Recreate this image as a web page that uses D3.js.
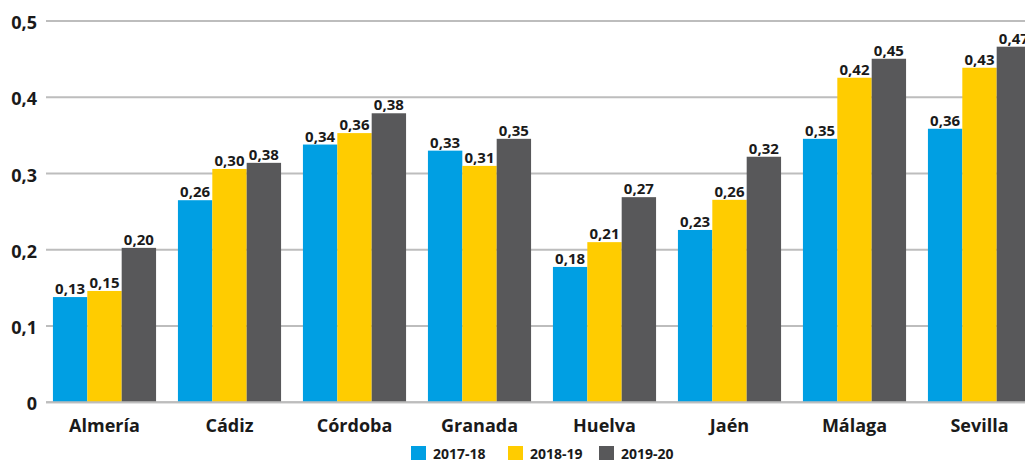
<!DOCTYPE html>
<html>
<head>
<meta charset="utf-8">
<script src="https://cdn.jsdelivr.net/npm/d3@7"></script>
<style>
  html, body { margin: 0; padding: 0; background: #fff; overflow: hidden; }
  svg { display: block; font-family: "Open Sans", sans-serif; }
</style>
</head>
<body>
<svg id="chart" width="1025" height="460"></svg>
<script>
// ---- data ----
const categories = ["Almería", "Cádiz", "Córdoba", "Granada", "Huelva", "Jaén", "Málaga", "Sevilla"];
const seriesNames = ["2017-18", "2018-19", "2019-20"];
// bar heights as drawn
const values2017 = [0.138, 0.265, 0.338, 0.330, 0.1775, 0.226, 0.3455, 0.3587];
const values2018 = [0.146, 0.306, 0.353, 0.310, 0.210, 0.2655, 0.4256, 0.4387];
const values2019 = [0.2025, 0.314, 0.379, 0.3455, 0.269, 0.322, 0.4505, 0.4663];
// printed data labels
const labels2017 = ["0,13", "0,26", "0,34", "0,33", "0,18", "0,23", "0,35", "0,36"];
const labels2018 = ["0,15", "0,30", "0,36", "0,31", "0,21", "0,26", "0,42", "0,43"];
const labels2019 = ["0,20", "0,38", "0,38", "0,35", "0,27", "0,32", "0,45", "0,47"];
const yTicks = [0, 0.1, 0.2, 0.3, 0.4, 0.5];
const colors = ["#009FE3", "#FFCC00", "#58585A"];

const seriesValues = [values2017, values2018, values2019];
const seriesLabels = [labels2017, labels2018, labels2019];

const svg = d3.select("#chart");

const x = d3.scaleBand().domain(categories).range([42, 1042]).paddingInner(0.175).paddingOuter(0.0875);
const xs = d3.scaleBand().domain(seriesNames).range([0, x.bandwidth()]);
const y = d3.scaleLinear().domain([0, 0.5]).range([402.3, 21]);
const fmt = v => d3.format(".1f")(v).replace(".", ",").replace(/^0,0$/, "0");

// gridlines
svg.append("g").selectAll("line").data(yTicks).join("line")
  .attr("x1", 46).attr("x2", 1025)
  .attr("y1", d => y(d)).attr("y2", d => y(d))
  .attr("stroke", "#BDBDBD").attr("stroke-width", 2);

// y tick labels
svg.append("g").selectAll("text").data(yTicks).join("text")
  .attr("x", 37).attr("y", d => y(d) + 8)
  .attr("text-anchor", "end")
  .attr("font-size", 18).attr("font-weight", 700).attr("fill", "#1a1a1a")
  .text(d => d === 0 ? "0" : fmt(d));

// bars
const groups = svg.append("g").selectAll("g").data(categories).join("g")
  .attr("transform", d => `translate(${x(d)},0)`);

seriesNames.forEach((s, si) => {
  groups.append("rect")
    .attr("x", xs(s))
    .attr("width", xs.bandwidth())
    .attr("y", (d, i) => y(seriesValues[si][i]))
    .attr("height", (d, i) => y(0) - y(seriesValues[si][i]))
    .attr("fill", colors[si]);
});

// redraw baseline above bars
svg.append("line")
  .attr("x1", 46).attr("x2", 1025)
  .attr("y1", y(0)).attr("y2", y(0))
  .attr("stroke", "#BDBDBD").attr("stroke-width", 2);

// data labels
seriesNames.forEach((s, si) => {
  groups.append("text")
    .attr("x", xs(s) + xs.bandwidth() / 2)
    .attr("y", (d, i) => y(seriesValues[si][i]) - 3)
    .attr("text-anchor", "middle")
    .attr("font-size", 15).attr("font-weight", 700).attr("fill", "#1a1a1a")
    .text((d, i) => seriesLabels[si][i]);
});

// category labels
svg.append("g").selectAll("text").data(categories).join("text")
  .attr("x", d => x(d) + x.bandwidth() / 2)
  .attr("y", 431.5)
  .attr("text-anchor", "middle")
  .attr("font-size", 18).attr("font-weight", 700).attr("fill", "#1a1a1a")
  .text(d => d);

// legend
const legendX = [411, 508, 599];
const lg = svg.append("g").selectAll("g").data(seriesNames).join("g")
  .attr("transform", (d, i) => `translate(${legendX[i]},446)`);
lg.append("rect").attr("width", 15).attr("height", 15).attr("fill", (d, i) => colors[i]);
lg.append("text").attr("x", 22).attr("y", 12.5)
  .attr("font-size", 14).attr("font-weight", 700).attr("fill", "#1a1a1a")
  .text(d => d);
</script>
</body>
</html>
